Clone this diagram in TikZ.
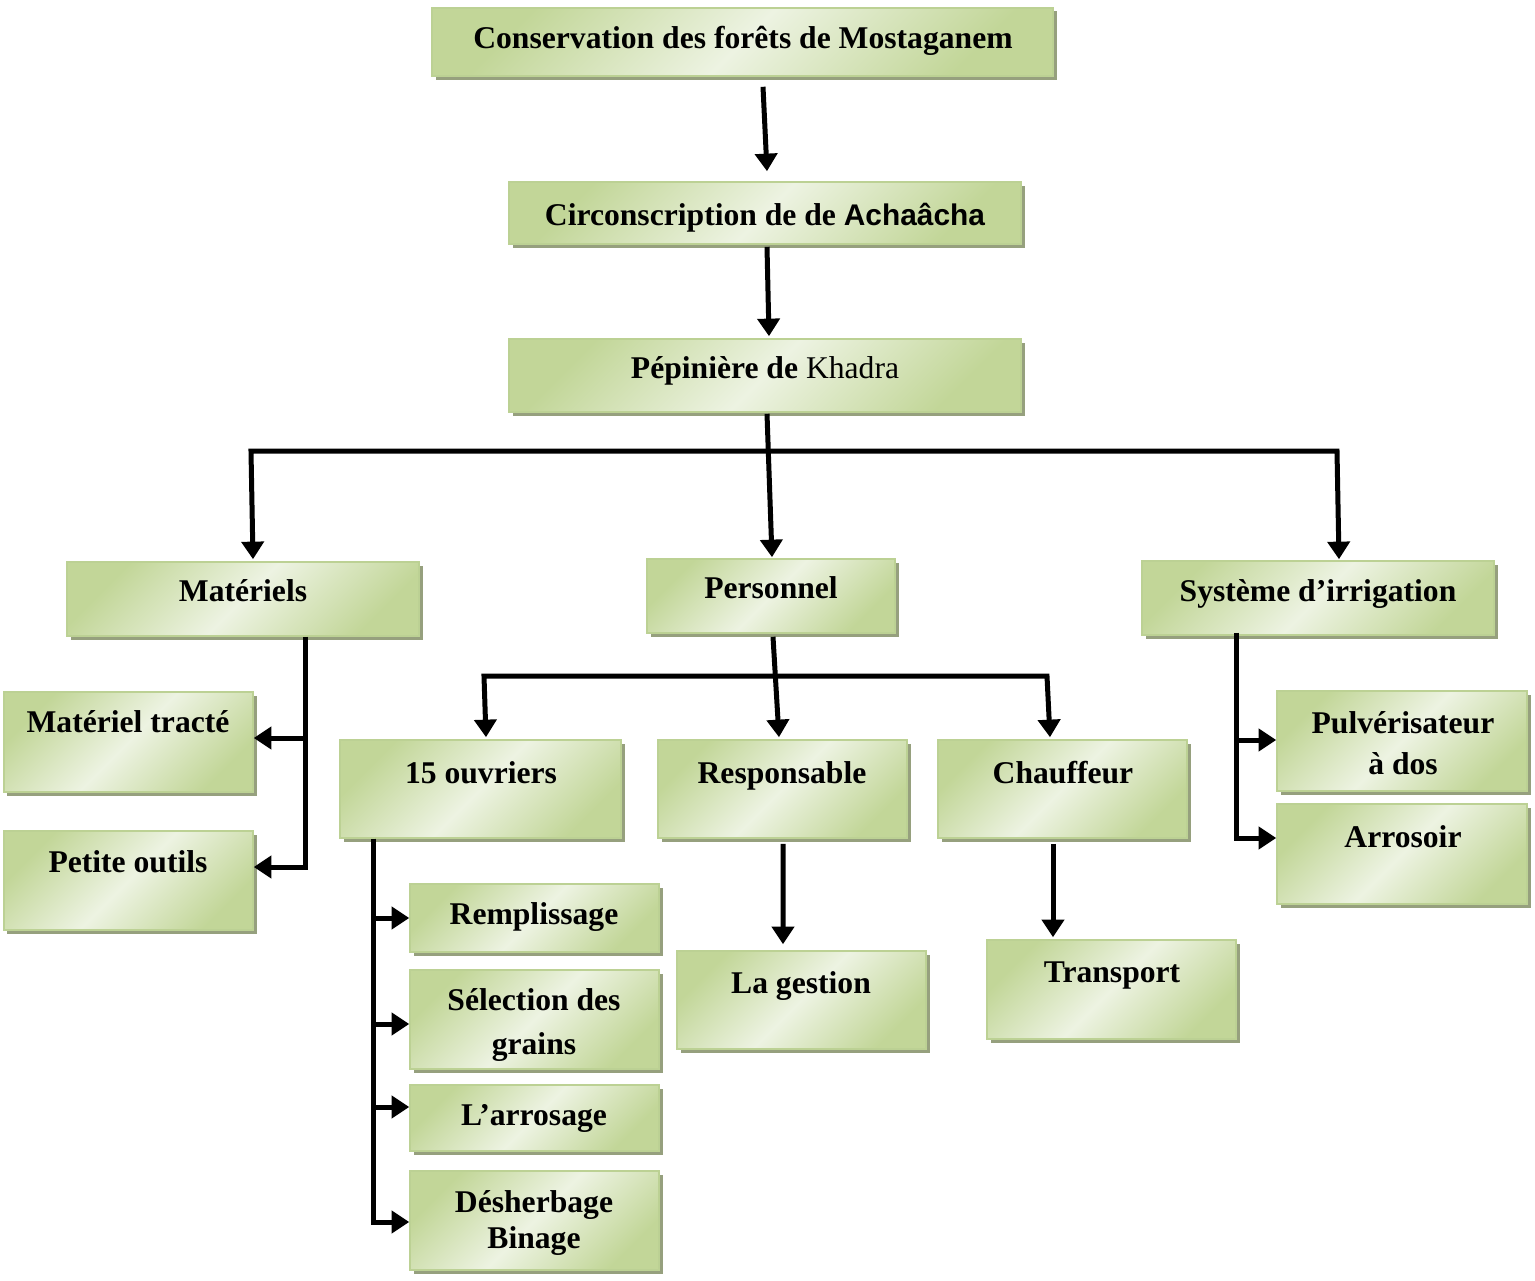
\documentclass[tikz,border=0pt]{standalone}
\usepackage{fontspec}
\setmainfont{Liberation Serif}
\newfontfamily\sansgras{Liberation Sans}
\usepackage{tikz}
\usetikzlibrary{calc,shadows,arrows.meta}
\definecolor{vertfonce}{RGB}{194,214,152}
\definecolor{vertclair}{RGB}{237,243,226}
\definecolor{vertbord}{RGB}{188,209,148}
\definecolor{ombre}{RGB}{150,160,126}
\tikzset{
	boite/.style={draw=vertbord, line width=0.9pt, left color=vertfonce, right color=vertfonce,
		middle color=vertclair, shading angle=45, inner sep=0pt,
		general shadow={fill=ombre, shadow xshift=0.07cm, shadow yshift=-0.07cm}},
	txt/.style={font=\fontsize{18}{21}\selectfont\bfseries, text height=0.75em, text depth=0.25em, inner sep=0pt, yshift=-0.12cm},
	txtml/.style={font=\fontsize{18}{21}\selectfont\bfseries, align=center, inner sep=0pt, yshift=-0.08cm},
	ligne/.style={line width=0.1cm},
	fleche/.style={ligne, -{Triangle[width=12.5pt,length=10pt]}},
	fleches/.style={ligne, {Triangle[width=12.5pt,length=10pt]}-{Triangle[width=12.5pt,length=10pt]}}
}
% boite (nom)(gauche,haut)(droite,bas), en pixels
\def\boite(#1)(#2,#3)(#4,#5){\node[boite, minimum width={(#4-#2)*0.02cm}, minimum height={(#5-#3)*0.02cm}] (#1) at ({(#2+#4)/2},{(#3+#5)/2}) {};}

\begin{document}
\begin{tikzpicture}[x=0.02cm, y=-0.02cm]
	%%%%% START %%%%%
	\useasboundingbox (0,0) rectangle (1535,1281);
	
	\boite(cons)(432,8)(1053,76)
	\boite(circ)(509,182)(1021,244)
	\boite(pep)(509,339)(1021,412)
	
	\boite(mat)(67,562)(419,636)
	\boite(pers)(647,559)(895,633)
	\boite(sys)(1142,561)(1494,635)
	
	\boite(tract)(4,692)(253,792)
	\boite(outil)(4,831)(253,930)
	\boite(ouvr)(340,740)(621,838)
	\boite(resp)(658,740)(907,838)
	\boite(chauf)(938,740)(1187,838)
	\boite(pulv)(1277,691)(1527,791)
	\boite(arros)(1277,804)(1527,904)
	
	\boite(rempl)(410,884)(659,952)
	\boite(select)(410,970)(659,1069)
	\boite(arrsg)(410,1085)(659,1151)
	\boite(desh)(410,1171)(659,1270)
	\boite(gest)(677,951)(926,1049)
	\boite(transp)(987,940)(1236,1039)
	
	\node[txt] (cons-t) at (743,38) {Conservation des forêts de Mostaganem};
	\node[txt] (circ-t) at (765,215) {Circonscription de de {\sansgras\fontsize{17}{21}\selectfont Achaâcha}};
	\node[txt] (pep-t) at (765,368) {Pépinière de \mdseries Khadra};
	\node[txt] (mat-t) at (243,591) {Matériels};
	\node[txt] (pers-t) at (771,588) {Personnel};
	\node[txt] (sys-t) at (1318,591) {Système d’irrigation};
	\node[txt] (tract-t) at (128,722) {Matériel tracté};
	\node[txt] (outil-t) at (128,862) {Petite outils};
	\node[txt] (ouvr-t) at (481,773) {15 ouvriers};
	\node[txt] (resp-t) at (782,773) {Responsable};
	\node[txt] (chauf-t) at (1063,773) {Chauffeur};
	\node[txtml, yshift=0.08cm] (pulv-t) at (1403,743) {Pulvérisateur\\[2pt] à dos};
	\node[txt] (arros-t) at (1403,837) {Arrosoir};
	\node[txt] (rempl-t) at (534,914) {Remplissage};
	\node[txtml] (select-t) at (534,1021) {Sélection des\\[4pt] grains};
	\node[txt] (arrsg-t) at (534,1115) {L’arrosage};
	\node[txtml] (desh-t) at (534,1219) {Désherbage\\ Binage};
	\node[txt] (gest-t) at (801,983) {La gestion};
	\node[txt] (transp-t) at (1112,972) {Transport};
	
	% tronc
	\draw[fleche] ($(cons.south)+(20.5,10)$) -- ($(circ.north)+(2,-10)$);
	\draw[fleche] ($(circ.south)+(2,2)$) -- ($(pep.north)+(4,-2)$);
	\draw[fleche] ($(pep.south)+(2,1)$) -- ($(pers.north)+(1,-1)$);
	\draw[fleches] ($(mat.north)+(10,-2)$) -- ($(mat.north)+(8,-110)$) -- ($(sys.north)+(19,-109)$) -- ($(sys.north)+(21,-1)$);
	
	% personnel
	\draw[fleche] ($(pers.south)+(2,3)$) -- ($(resp.north)+(-3.5,-2)$);
	\draw[fleches] ($(ouvr.north)+(5.5,-2)$) -- ($(ouvr.north)+(3.5,-63)$) -- ($(chauf.north)+(-15.5,-63)$) -- ($(chauf.north)+(-12.5,-2)$);
	\draw[fleche] ($(resp.south)+(0.5,5)$) -- ($(gest.north)+(-18.5,-6)$);
	\draw[fleche] ($(chauf.south)+(-9.5,5)$) -- ($(transp.north)+(-58.5,-2)$);
	
	% materiels
	\draw[fleche] ($(mat.south)+(62,0)$) |- ($(tract.east)+(0,-4)$);
	\draw[fleche] ($(mat.south)+(62,0)$) |- ($(outil.east)+(0,-13.5)$);
	
	% irrigation
	\draw[fleche] ($(sys.south)+(-82,-3)$) |- ($(pulv.west)+(0,-1)$);
	\draw[fleche] ($(sys.south)+(-82,-3)$) |- ($(arros.west)+(0,-16)$);
	
	% ouvriers
	\draw[fleche] ($(ouvr.south)+(-107.5,0)$) |- (rempl.west);
	\draw[fleche] ($(ouvr.south)+(-107.5,0)$) |- ($(select.west)+(0,4.5)$);
	\draw[fleche] ($(ouvr.south)+(-107.5,0)$) |- ($(arrsg.west)+(0,-11)$);
	\draw[fleche] ($(ouvr.south)+(-107.5,0)$) |- ($(desh.west)+(0,1.5)$);
	%%%%% END %%%%%
\end{tikzpicture}
\end{document}
